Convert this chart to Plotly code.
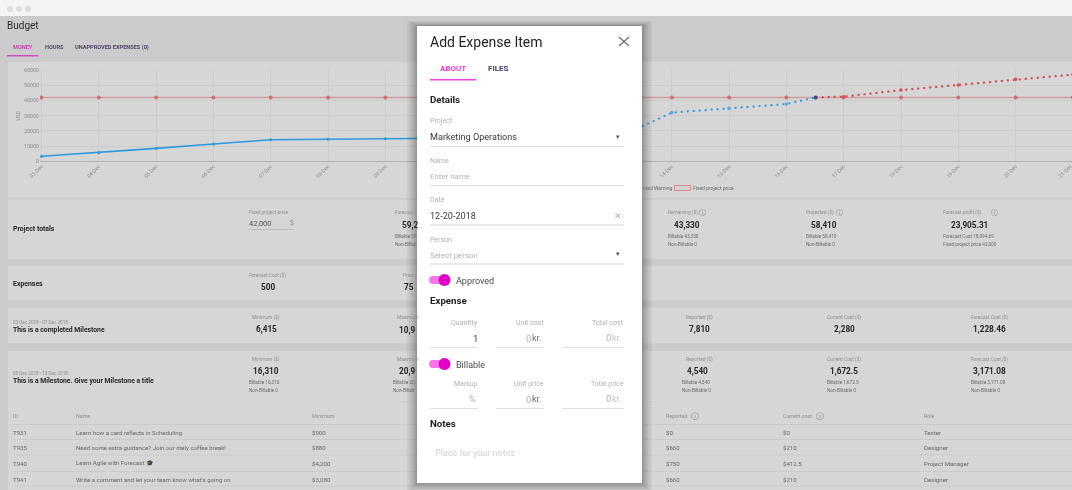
import plotly.graph_objects as go

W, H = 1072, 490
FONT = "Roboto"

days = ["2018-12-03", "2018-12-04", "2018-12-05", "2018-12-06", "2018-12-07", "2018-12-08", "2018-12-09",
        "2018-12-10", "2018-12-11", "2018-12-12", "2018-12-13", "2018-12-14", "2018-12-15", "2018-12-16",
        "2018-12-17", "2018-12-18", "2018-12-19", "2018-12-20", "2018-12-21"]
fixed_price = [42000, 42000, 42000, 42000, 42000, 42000, 42000, 42000, 42000, 42000,
               42000, 42000, 42000, 42000, 42000, 42000, 42000, 42000, 42000]

reported_dates = ["2018-12-03", "2018-12-04", "2018-12-05", "2018-12-06", "2018-12-07",
                  "2018-12-08", "2018-12-09", "2018-12-10"]
reported = [3300, 5650, 8500, 11400, 14200, 14500, 14800, 15100]

projected_dates = ["2018-12-13", "2018-12-14", "2018-12-15", "2018-12-16", "2018-12-16 12:15"]
projected = [14700, 32000, 34800, 37650, 42000]

warning_dates = ["2018-12-16 12:15", "2018-12-17", "2018-12-18", "2018-12-19", "2018-12-20", "2018-12-21"]
warning = [42000, 42500, 46800, 50150, 53900, 57000]

task_ids = ["T931", "T935", "T940", "T941"]
task_names = ["Learn how a card reflects in Scheduling",
              "Need some extra guidance? Join our daily coffee break!",
              "Learn Agile with Forecast \U0001F393",
              "Write a comment and let your team know what's going on"]
task_minimum = ["$900", "$880", "$4,200", "$3,080"]
task_reported = ["$0", "$660", "$750", "$660"]
task_current = ["$0", "$210", "$412.5", "$210"]
task_roles = ["Tester", "Designer", "Project Manager", "Designer"]

C_LABEL = "#8e8e8e"
C_SMALL = "#6a6a6a"
C_VALUE = "#262626"
C_TABLE = "#666666"
C_CARD = "#d6d6d6"
C_PAGE = "#cbcbcb"
C_RULE = "#cccccc"
C_FIELD = "#e2e2e2"
C_HINT = "#b0b0b0"
C_MAGENTA = "#e000c8"

BIG = 8.2
LBL = 4.8
SMALL = 4.7
HEAD = 6.9

shapes = []
notes = []


def px(x):
    return x / W


def py(y):
    return 1 - y / H


def rect(x0, y0, x1, y1, fill, layer="below", line=None):
    shapes.append(dict(type="rect", xref="paper", yref="paper", x0=px(x0), x1=px(x1), y0=py(y0), y1=py(y1),
                       fillcolor=fill, line=dict(width=1 if line else 0, color=line or fill), layer=layer))


def circle(cx, cy, r, fill, layer="above"):
    shapes.append(dict(type="circle", xref="paper", yref="paper", x0=px(cx - r), x1=px(cx + r),
                       y0=py(cy - r), y1=py(cy + r), fillcolor=fill, line=dict(width=0), layer=layer))


def seg(x0, y0, x1, y1, color, width=1, layer="above"):
    shapes.append(dict(type="line", xref="paper", yref="paper", x0=px(x0), x1=px(x1), y0=py(y0), y1=py(y1),
                       line=dict(color=color, width=width), layer=layer))


def text(s, x, y, size=SMALL, color=C_SMALL, anchor="left", bold=False):
    if bold:
        s = "<b>" + s + "</b>"
    # annotations sit about a pixel inside their anchor
    shift = {"left": -1, "right": 1, "center": 0}[anchor]
    notes.append(dict(text=s, xref="paper", yref="paper", x=px(x + shift), y=py(y), xanchor=anchor, yanchor="middle",
                      showarrow=False, borderpad=0, font=dict(family=FONT, size=size, color=color)))


def info_icon(x, y, size=6.5):
    text("\u24d8", x, y, size=size, color="#858585", anchor="center")


# page furniture
rect(0, 0, W, 16, "#f4f4f4")
for dot_x in [10, 19, 28]:
    circle(dot_x, 9, 3, "#dddddd", layer="below")
text("Budget", 7, 26, size=10, color="#2a2a2a")
text("MONEY", 13, 47.5, size=5.6, color="#c640b4", bold=True)
text("HOURS", 45, 47.5, size=5.6, color="#4f4366", bold=True)
text("UNAPPROVED EXPENSES (0)", 75, 47.5, size=5.6, color="#4f4366", bold=True)
rect(7, 55, 38.5, 56.5, "#d14bc0")

# cards
rect(8, 62, W, 198, C_CARD)
rect(8, 199.5, W, 259, C_CARD)
rect(8, 265.7, W, 300.3, C_CARD)
rect(8, 307.7, W, 343.3, C_CARD)
rect(8, 351, W, H, C_CARD)
seg(8, 401.7, W, 401.7, "#d0d0d0", layer="below")

# chart legend, the part right of the dialog
text("cted Warning", 642.7, 188, size=5, color=C_SMALL)
rect(674.5, 185.5, 690.5, 190.5, "#d3d3d3", line="#d98a8a")
text("Fixed project price", 693, 188, size=5, color=C_SMALL)
text("USD", 17.5, 116, size=5, color="#8a8a8a", anchor="center")
notes[-1]["textangle"] = -90
# last date tick sits on the window edge, past the end of the axis
text("21 Dec", 1065, 171, size=5.3, color="#8a8a8a", anchor="center")
notes[-1]["textangle"] = -45

# project totals
text("Project totals", 13, 229, size=HEAD, color=C_VALUE, bold=True)
text("Fixed project price", 249, 212.5, size=LBL, color=C_LABEL)
text("42,000", 249, 223, size=7.5, color="#555555")
text("$", 290, 223, size=7, color="#8a8a8a")
seg(249, 229.5, 294, 229.5, "#bdbdbd", layer="below")
text("Forecast (", 395, 212.5, size=LBL, color=C_LABEL)
text("59,2", 401.5, 224.5, size=BIG, color=C_VALUE, bold=True)
text("Billable 59", 395, 236.5)
text("Non-Billab", 395, 244.5)

text("Remaining ($)", 668, 212.5, size=LBL, color=C_LABEL)
info_icon(702.5, 212.5)
text("43,330", 687, 224.5, size=BIG, color=C_VALUE, anchor="center", bold=True)
text("Billable 43,330", 668, 236.5)
text("Non-Billable 0", 668, 244.5)
text("Projected ($)", 806, 212.5, size=LBL, color=C_LABEL)
info_icon(839, 212.5)
text("58,410", 824, 224.5, size=BIG, color=C_VALUE, anchor="center", bold=True)
text("Billable 58,410", 806, 236.5)
text("Non-Billable 0", 806, 244.5)
text("Forecast profit ($)", 943, 212.5, size=LBL, color=C_LABEL)
info_icon(994, 212.5)
text("23,905.31", 969.7, 224.5, size=BIG, color=C_VALUE, anchor="center", bold=True)
text("Forecast Cost 18,094.69", 943, 236.5)
text("Fixed project price 42,000", 943, 244.5)

# expenses
text("Expenses", 13, 283.5, size=HEAD, color=C_VALUE, bold=True)
text("Forecast Cost ($)", 248.5, 275, size=LBL, color=C_LABEL)
text("500", 267.5, 286.5, size=BIG, color=C_VALUE, anchor="center", bold=True)
text("Price (", 403, 275, size=LBL, color=C_LABEL)
text("75", 404, 286.5, size=BIG, color=C_VALUE, bold=True)

# completed milestone
text("03 Dec 2018 - 07 Dec 2018", 13, 322.5, size=4.6, color=C_LABEL)
text("This is a completed Milestone", 13, 330, size=6.8, color=C_VALUE, bold=True)
text("Minimum ($)", 266, 317, size=LBL, color=C_LABEL, anchor="center")
text("6,415", 266, 329, size=BIG, color=C_VALUE, anchor="center", bold=True)
text("Maximum", 397, 317, size=LBL, color=C_LABEL)
text("10,9", 399, 329.5, size=BIG, color=C_VALUE, bold=True)
text("Reported ($)", 699.7, 317, size=LBL, color=C_LABEL, anchor="center")
text("7,810", 699.7, 329, size=BIG, color=C_VALUE, anchor="center", bold=True)
text("Current Cost ($)", 844, 317, size=LBL, color=C_LABEL, anchor="center")
text("2,280", 844, 329, size=BIG, color=C_VALUE, anchor="center", bold=True)
text("Forecast Cost ($)", 989, 317, size=LBL, color=C_LABEL, anchor="center")
text("1,228.46", 989, 329, size=BIG, color=C_VALUE, anchor="center", bold=True)

# open milestone
text("05 Dec 2018 - 13 Dec 2018", 13, 373, size=4.6, color=C_LABEL)
text("This is a Milestone. Give your Milestone a title", 13, 380.5, size=6.8, color=C_VALUE, bold=True)
text("Minimum ($)", 266, 359.5, size=LBL, color=C_LABEL, anchor="center")
text("16,310", 266, 371, size=BIG, color=C_VALUE, anchor="center", bold=True)
text("Billable 16,310", 248.5, 382.5)
text("Non-Billable 0", 248.5, 390.5)
text("Maximum", 397, 359.5, size=LBL, color=C_LABEL)
text("20,9", 399, 371, size=BIG, color=C_VALUE, bold=True)
text("Billable 20,", 393, 382.5)
text("Non-Billab", 393, 390.5)
text("Reported ($)", 699.7, 359.5, size=LBL, color=C_LABEL, anchor="center")
text("4,540", 697, 371, size=BIG, color=C_VALUE, anchor="center", bold=True)
text("Billable 4,540", 682, 382.5)
text("Non-Billable 0", 682, 390.5)
text("Current Cost ($)", 844, 359.5, size=LBL, color=C_LABEL, anchor="center")
text("1,672.5", 844, 371, size=BIG, color=C_VALUE, anchor="center", bold=True)
text("Billable 1,672.5", 827, 382.5)
text("Non-Billable 0", 827, 390.5)
text("Forecast Cost ($)", 989, 359.5, size=LBL, color=C_LABEL, anchor="center")
text("3,171.08", 989, 371, size=BIG, color=C_VALUE, anchor="center", bold=True)
text("Billable 3,171.08", 971, 382.5)
text("Non-Billable 0", 971, 390.5)

# task table
for x, head in [(13, "ID"), (76, "Name"), (312, "Minimum"), (665.7, "Reported"),
                (783.3, "Current cost"), (924, "Role")]:
    text(head, x, 416, size=5.3, color=C_LABEL)
info_icon(694.5, 416, size=7.5)
info_icon(819.5, 416, size=7.5)
row_y = [432, 447.5, 463, 479]
for y in [424.5, 439.5, 455, 471.5, 486]:
    seg(13, y, W, y, "#cbcbcb", layer="below")
for i, y in enumerate(row_y):
    text(task_ids[i], 13, y, size=6.1, color=C_TABLE)
    text(task_names[i], 76, y, size=6.1, color=C_TABLE)
    text(task_minimum[i], 312, y, size=6.1, color=C_TABLE)
    text(task_reported[i], 665.7, y, size=6.1, color=C_TABLE)
    text(task_current[i], 783.3, y, size=6.1, color=C_TABLE)
    text(task_roles[i], 924, y, size=6.1, color=C_TABLE)

n_background_notes = len(notes)

# dialog shadow and body
for grow in [10, 8, 6, 4.5, 3, 2, 1]:
    rect(417 - grow, 26 - grow / 2, 642 + grow, 483 + grow, "rgba(0,0,0,0.05)", layer="above")
rect(417, 26, 642, 483, "#ffffff", layer="above")

text("Add Expense Item", 430, 42, size=14, color="#222222")
seg(619, 37, 629, 46, "#6e6e6e", width=1.2)
seg(629, 37, 619, 46, "#6e6e6e", width=1.2)
text("ABOUT", 440, 68.5, size=8, color="#f23bdd", bold=True)
text("FILES", 488, 68.5, size=8, color="#4a3a70", bold=True)
rect(430, 79, 476, 80.5, "#f53fe0", layer="above")
text("Details", 430, 99.5, size=9.7, color="#222222", bold=True)

text("Project", 430, 121.5, size=7, color=C_HINT)
text("Marketing Operations", 430, 136.5, size=9.1, color="#3a3a3a")
text("\u25be", 618, 136.5, size=7, color="#555555", anchor="center")
seg(430, 146.5, 624, 146.5, C_FIELD, width=1.2)
text("Name", 430, 160.5, size=7, color=C_HINT)
text("Enter name", 430, 176, size=7.9, color="#b5b5b5")
seg(430, 185.5, 624, 185.5, C_FIELD, width=1.2)
text("Date", 430, 200, size=7, color=C_HINT)
text("12-20-2018", 430, 215.5, size=9.1, color="#3a3a3a")
seg(615.5, 213.5, 620, 218, "#8a8a8a", width=0.8)
seg(620, 213.5, 615.5, 218, "#8a8a8a", width=0.8)
seg(430, 225, 624, 225, C_FIELD, width=1.5)
text("Person", 430, 239.5, size=7, color=C_HINT)
text("Select person", 430, 255, size=7.9, color="#b0b0b0")
text("\u25be", 618, 254, size=7, color="#555555", anchor="center")
seg(430, 264, 624, 264, C_FIELD, width=1.5)

for toggle_y, toggle_label in [(280, "Approved"), (364, "Billable")]:
    rect(433, toggle_y - 4, 445, toggle_y + 4, "#f975e9", layer="above")
    circle(433, toggle_y, 4, "#f975e9")
    circle(444.5, toggle_y, 6, C_MAGENTA)
    text(toggle_label, 456, toggle_y + 0.5, size=9, color="#4a4a4a")

text("Expense", 430, 300.5, size=9.7, color="#222222", bold=True)
text("Quantity", 478, 323, size=7, color=C_HINT, anchor="right")
text("1", 478, 338, size=9.5, color="#3a3a3a", anchor="right")
text("Unit cost", 544, 323, size=7, color=C_HINT, anchor="right")
text("0", 531, 338, size=9.5, color="#b0b0b0", anchor="right")
text("kr.", 532, 338, size=9, color="#6a6a6a")
text("Total cost", 624, 322.5, size=7, color=C_HINT, anchor="right")
text("0", 611, 337.5, size=9.5, color="#b0b0b0", anchor="right")
text("kr.", 612, 337.5, size=9, color="#c4c4c4")
text("Markup", 478, 384, size=7, color=C_HINT, anchor="right")
text("%", 476, 399, size=9, color="#b0b0b0", anchor="right")
text("Unit price", 544, 384, size=7, color=C_HINT, anchor="right")
text("0", 531, 399, size=9.5, color="#b0b0b0", anchor="right")
text("kr.", 532, 399, size=9, color="#6a6a6a")
text("Total price", 624, 383.5, size=7, color=C_HINT, anchor="right")
text("0", 611, 398.5, size=9.5, color="#b0b0b0", anchor="right")
text("kr.", 612, 398.5, size=9, color="#c4c4c4")
for y in [347.5, 408.5]:
    seg(430, y, 478, y, C_FIELD, width=1.2)
    seg(496, y, 544, y, C_FIELD, width=1.2)
    seg(562, y, 624, y, C_FIELD, width=1.2)
text("Notes", 430, 423.5, size=9.7, color="#222222", bold=True)
text("Place for your notes", 435, 452.5, size=9, color="#d6cfcf")

fig = go.Figure()
fig.add_trace(go.Scatter(x=days, y=fixed_price, name="Fixed project price", mode="lines+markers",
                         line=dict(color="rgba(205,110,115,0.55)", width=1.5),
                         marker=dict(color="#cb7074", size=4)))
fig.add_trace(go.Scatter(x=reported_dates, y=reported, name="Reported", mode="lines+markers",
                         line=dict(color="#2d9ae0", width=1.6), marker=dict(color="#2d9ae0", size=3)))
fig.add_trace(go.Scatter(x=projected_dates, y=projected, name="Projected", mode="lines+markers",
                         line=dict(color="#2d9ae0", width=2, dash="2px,4px"),
                         marker=dict(color="#5aa9dc", size=3.5)))
fig.add_trace(go.Scatter(x=warning_dates, y=warning, name="Projected Warning", mode="lines+markers",
                         line=dict(color="#d4404e", width=2, dash="2px,4px"),
                         marker=dict(color="#cf5460", size=3.5)))
fig.add_trace(go.Scatter(x=warning_dates[:1], y=warning[:1], name="Crossing", mode="markers",
                         marker=dict(color="#4a4a80", size=4)))

fig.update_layout(
    width=W, height=H, margin=dict(l=0, r=0, t=0, b=0), showlegend=False, hovermode=False,
    paper_bgcolor=C_PAGE, plot_bgcolor="rgba(0,0,0,0)", font=dict(family=FONT),
    shapes=shapes, annotations=notes,
    xaxis=dict(type="date", domain=[px(40), 1], range=["2018-12-02 23:22", "2018-12-20 23:37"], automargin=False,
               tickvals=days, tickformat="%d %b", tickangle=-45, showgrid=True, gridcolor=C_RULE, gridwidth=1,
               tickfont=dict(size=5.3, color="#8a8a8a"), ticks="", showline=False, zeroline=False),
    yaxis=dict(domain=[py(161.3), py(70)], range=[0, 60000], tickvals=[0, 10000, 20000, 30000, 40000, 50000, 60000],
               automargin=False, tickformat="d", showgrid=True, gridcolor=C_RULE, zeroline=True,
               zerolinecolor="#b2b2b2", zerolinewidth=1, tickfont=dict(size=5.3, color="#8a8a8a"),
               ticks="", showline=False),
)

# the page behind the dialog is slightly out of focus
page_js = """
document.body.style.margin = '0';
document.body.style.overflow = 'hidden';
document.querySelector('.cartesianlayer').style.filter = 'blur(0.45px)';
document.querySelectorAll('.annotation').forEach(function (a) {
    if (+a.getAttribute('data-index') < %d) a.style.filter = 'blur(0.4px)';
});
""" % n_background_notes

fig.write_html("out.html", config=dict(displayModeBar=False), post_script=page_js)
